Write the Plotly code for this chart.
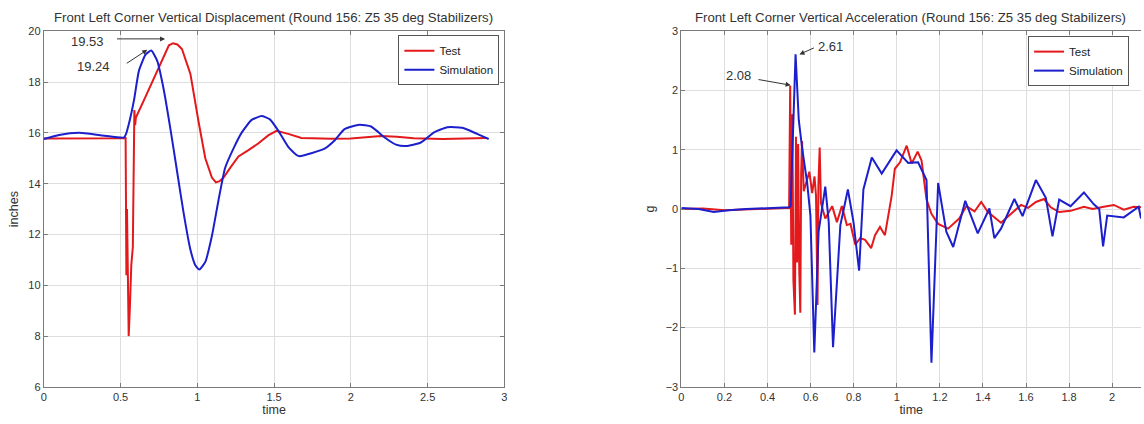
import plotly.graph_objects as go

# ---------------- data ----------------
disp_test_t = [0, 0.1, 0.2, 0.3, 0.4, 0.5, 0.533, 0.538, 0.542, 0.548, 0.553, 0.56, 0.57, 0.58, 0.585,
               0.59, 0.595, 0.6, 0.663, 0.728, 0.793, 0.815, 0.842, 0.87, 0.90, 0.955, 1.009, 1.052,
               1.095, 1.121, 1.145, 1.171, 1.214, 1.268, 1.333, 1.397, 1.462, 1.516, 1.592, 1.678, 1.75,
               1.873, 2.0, 2.197, 2.3, 2.41, 2.6, 2.75, 2.888]
disp_test_v = [15.78, 15.78, 15.77, 15.78, 15.78, 15.79, 15.8, 10.4, 13.0, 8.5, 8.0, 9.0, 10.8, 11.5, 14.5,
               16.9, 16.3, 16.6, 17.43, 18.32, 19.21, 19.45, 19.53, 19.48, 19.3, 18.32, 16.41, 15.0,
               14.24, 14.05, 14.1, 14.24, 14.62, 15.07, 15.32, 15.58, 15.9, 16.08, 15.96, 15.80, 15.79,
               15.77, 15.78, 15.88, 15.85, 15.79, 15.76, 15.79, 15.80]

disp_sim_t = [0, 0.1, 0.231, 0.382, 0.523, 0.535, 0.56, 0.588, 0.62, 0.663, 0.70, 0.739, 0.782, 0.825,
              0.868, 0.911, 0.954, 0.987, 1.013, 1.052, 1.095, 1.138, 1.181, 1.236, 1.29, 1.354, 1.419,
              1.473, 1.527, 1.592, 1.646, 1.667, 1.743, 1.829, 1.894, 1.959, 2.056, 2.132, 2.218, 2.294,
              2.359, 2.456, 2.542, 2.629, 2.726, 2.823, 2.898]
disp_sim_v = [15.76, 15.92, 16.0, 15.9, 15.82, 15.95, 16.5, 17.3, 18.45, 19.08, 19.24, 18.83, 17.68, 16.15,
              14.49, 12.84, 11.43, 10.79, 10.62, 10.92, 11.94, 13.35, 14.62, 15.39, 16.02, 16.51, 16.66,
              16.53, 16.09, 15.45, 15.13, 15.08, 15.2, 15.38, 15.7, 16.15, 16.32, 16.25, 15.83, 15.54,
              15.48, 15.62, 16.02, 16.22, 16.2, 15.96, 15.76]

acc_test_t = [0, 0.1, 0.2, 0.3, 0.4, 0.5, 0.505, 0.51, 0.515, 0.52, 0.527, 0.532, 0.537, 0.542, 0.547,
              0.552, 0.556, 0.56, 0.568, 0.579, 0.594, 0.607, 0.618, 0.625, 0.632, 0.636, 0.642, 0.648,
              0.668, 0.70, 0.722, 0.745, 0.768, 0.785, 0.807, 0.83, 0.853, 0.881, 0.899, 0.922, 0.945,
              0.976, 0.991, 1.015, 1.03, 1.046, 1.069, 1.097, 1.115, 1.138, 1.161, 1.192, 1.238, 1.29,
              1.323, 1.361, 1.392, 1.423, 1.484, 1.53, 1.577, 1.61, 1.646, 1.684, 1.715, 1.754, 1.807,
              1.869, 1.91, 1.961, 2.008, 2.054, 2.1, 2.134]
acc_test_v = [0.0, 0.01, -0.02, -0.01, 0.01, 0.02, 2.08, -0.6, 1.6, -1.2, -1.78, 1.22, -0.9, 1.1, -1.0,
              -1.75, 0.6, 1.15, 0.3, 0.44, 0.63, 0.27, 0.55, 0.22, -1.62, 0.4, 1.04, 0.1,
              -0.16, 0.05, -0.22, 0.05, -0.27, -0.25, -0.6, -0.49, -0.52, -0.66, -0.44, -0.3, -0.44,
              0.22, 0.68, 0.79, 0.93, 1.07, 0.77, 0.97, 0.82, 0.16, -0.08, -0.25, -0.33, -0.16,
              0.05, -0.04, 0.12, -0.05, -0.23, -0.08, 0.07, 0.02, 0.12, 0.17, 0.03, -0.05, -0.03,
              0.04, 0.0, 0.04, 0.07, -0.01, 0.04, 0.03]

acc_sim_t = [0, 0.08, 0.15, 0.22, 0.3, 0.4, 0.5, 0.507, 0.53, 0.545, 0.56, 0.584, 0.599, 0.617, 0.637,
             0.668, 0.684, 0.704, 0.738, 0.773, 0.799, 0.825, 0.845, 0.884, 0.93, 0.999, 1.053, 1.099,
             1.138, 1.161, 1.192, 1.23, 1.262, 1.318, 1.376, 1.43, 1.453, 1.484, 1.546, 1.584, 1.646,
             1.692, 1.723, 1.754, 1.807, 1.869, 1.915, 1.94, 1.958, 1.977, 2.054, 2.123, 2.134]
acc_sim_v = [0.02, 0.0, -0.05, -0.02, 0.0, 0.02, 0.03, 0.05, 2.61, 1.5, 1.04, 0.44, -0.11, -2.42, -0.38,
             0.38, -0.22, -2.33, -0.27, 0.33, -0.22, -1.04, 0.33, 0.87, 0.6, 0.99, 0.78, 0.79,
             0.49, -2.59, 0.44, -0.38, -0.64, 0.14, -0.41, 0.01, -0.49, -0.33, 0.17, -0.12, 0.49,
             0.19, -0.46, 0.16, 0.05, 0.28, 0.08, 0.0, -0.63, -0.11, -0.14, 0.04, -0.16]

series_names = ["Test", "Simulation"]
left_title = "Front Left Corner Vertical Displacement (Round 156: Z5 35 deg Stabilizers)"
right_title = "Front Left Corner Vertical Acceleration (Round 156: Z5 35 deg Stabilizers)"

# ---------------- style ----------------
W, H = 1144, 424
RED = "#e3191c"
BLUE = "#1c1fcc"
TXT = "#333333"
FONT = "Liberation Sans, Arial, sans-serif"
GRID = "#dedede"
AX = "#7a7a7a"


def px_x(p):
    return p / W


def px_y(p):
    return 1 - p / H


fig = go.Figure()
fig.add_trace(go.Scatter(x=disp_test_t, y=disp_test_v, name=series_names[0], mode="lines",
                         line=dict(color=RED, width=2), xaxis="x", yaxis="y", legend="legend"))
fig.add_trace(go.Scatter(x=disp_sim_t, y=disp_sim_v, name=series_names[1], mode="lines",
                         line=dict(color=BLUE, width=2, shape="spline", smoothing=0.5),
                         xaxis="x", yaxis="y", legend="legend"))
fig.add_trace(go.Scatter(x=acc_test_t, y=acc_test_v, name=series_names[0], mode="lines",
                         line=dict(color=RED, width=2), xaxis="x2", yaxis="y2", legend="legend2"))
fig.add_trace(go.Scatter(x=acc_sim_t, y=acc_sim_v, name=series_names[1], mode="lines",
                         line=dict(color=BLUE, width=2), xaxis="x2", yaxis="y2", legend="legend2"))

axis_common = dict(showgrid=True, gridcolor=GRID, gridwidth=1, zeroline=False, showline=True,
                   linecolor=AX, linewidth=1, ticks="inside", ticklen=4, tickcolor=AX,
                   tickfont=dict(family=FONT, size=11, color=TXT))

ytop, ybot = 26, 392
legend_common = dict(bgcolor="white", bordercolor="#555555", borderwidth=1,
                     font=dict(family=FONT, size=11.5, color="#222"), xanchor="right", yanchor="top",
                     itemwidth=30, tracegroupgap=0)

fig.update_layout(
    width=W, height=H, margin=dict(l=0, r=0, t=0, b=0),
    paper_bgcolor="white", plot_bgcolor="white",
    font=dict(family=FONT, size=11, color=TXT),
    xaxis=dict(axis_common, domain=[px_x(41), px_x(504)], range=[0, 3], dtick=0.5, mirror="ticks",
               anchor="y", title=dict(text="time", standoff=2, font=dict(size=12.5))),
    yaxis=dict(axis_common, domain=[px_y(ybot), px_y(ytop)], range=[6, 20], dtick=2, mirror="ticks",
               anchor="x", title=dict(text="inches", standoff=6, font=dict(size=12.5))),
    xaxis2=dict(axis_common, domain=[px_x(682), 1.0], range=[0, 2.134], dtick=0.2, mirror="ticks",
                anchor="y2", title=dict(text="time", standoff=2, font=dict(size=12.5))),
    yaxis2=dict(axis_common, domain=[px_y(ybot), px_y(ytop)], range=[-3, 3], dtick=1, mirror=False,
                anchor="x2", title=dict(text="g", standoff=8, font=dict(size=12.5))),
    legend=dict(legend_common, x=px_x(499), y=px_y(30)),
    legend2=dict(legend_common, x=px_x(1132), y=px_y(31)),
    showlegend=True,
)

annots = [
    dict(text=left_title, x=px_x(272), y=px_y(12), xref="paper", yref="paper", showarrow=False,
         font=dict(size=13.2, color=TXT), xanchor="center", yanchor="middle"),
    dict(text=right_title, x=px_x(912), y=px_y(12), xref="paper", yref="paper", showarrow=False,
         font=dict(size=13.2, color=TXT), xanchor="center", yanchor="middle"),
    # left labels
    dict(text="19.53", x=0.285, y=19.58, xref="x", yref="y", showarrow=False, font=dict(size=13, color=TXT)),
    dict(text="19.24", x=0.324, y=18.62, xref="x", yref="y", showarrow=False, font=dict(size=13, color=TXT)),
    dict(text="", x=0.79, y=19.70, ax=0.467, ay=19.70, xref="x", yref="y", axref="x", ayref="y",
         showarrow=True, arrowhead=2, arrowsize=1, arrowwidth=1, arrowcolor="#333"),
    dict(text="", x=0.674, y=19.27, ax=0.531, ay=18.70, xref="x", yref="y", axref="x", ayref="y",
         showarrow=True, arrowhead=2, arrowsize=1, arrowwidth=1, arrowcolor="#333"),
    # right labels
    dict(text="2.61", x=0.69, y=2.74, xref="x2", yref="y2", showarrow=False, font=dict(size=13, color=TXT)),
    dict(text="2.08", x=0.266, y=2.25, xref="x2", yref="y2", showarrow=False, font=dict(size=13, color=TXT)),
    dict(text="", x=0.548, y=2.61, ax=0.622, ay=2.73, xref="x2", yref="y2", axref="x2", ayref="y2",
         showarrow=True, arrowhead=2, arrowsize=1, arrowwidth=1, arrowcolor="#333"),
    dict(text="", x=0.507, y=2.09, ax=0.351, ay=2.19, xref="x2", yref="y2", axref="x2", ayref="y2",
         showarrow=True, arrowhead=2, arrowsize=1, arrowwidth=1, arrowcolor="#333"),
]
fig.update_layout(annotations=annots)

fig.write_html("out.html")
